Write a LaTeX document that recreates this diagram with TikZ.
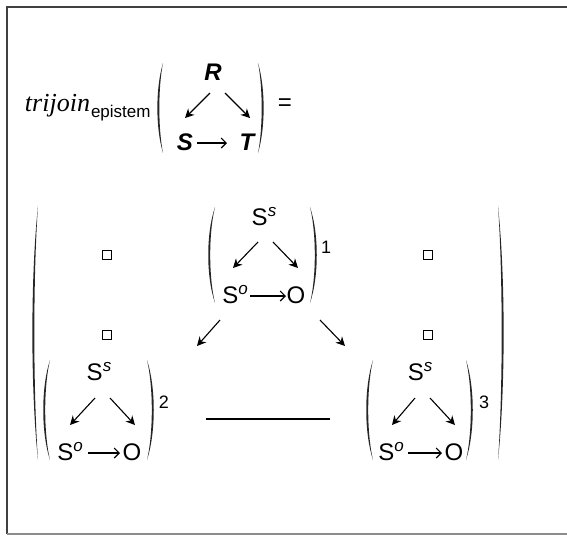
\documentclass[tikz,border=0pt]{standalone}
\usepackage{fontspec}
\setmainfont{Liberation Sans}
\newfontfamily\tjfont{Liberation Serif}
\usetikzlibrary{arrows.meta}
\newcommand\supx[1]{\raisebox{4.5pt}{\fontsize{8.5}{8.5}\selectfont\itshape #1}}
\tikzset{
  every node/.style={inner sep=0pt,outer sep=0pt},
  ent/.style={font=\fontsize{12}{12}\selectfont,anchor=base},
  bent/.style={font=\fontsize{12}{12}\selectfont\bfseries\itshape,anchor=base},
  idx/.style={font=\fontsize{9}{9}\selectfont,anchor=base},
  sq/.style={draw,minimum size=4.5pt,line width=0.6pt},
  diag/.style={-{Stealth[length=4.5pt,width=4.5pt]},line width=0.55pt},
  harrow/.style={-{Straight Barb[length=2.5pt,width=5pt]},line width=0.55pt},
  pics/lpar/.style n args={2}{code={\fill[black!85] (0,-#1) .. controls (-#2,-0.45*#1) and (-#2,0.45*#1) .. (0,#1)
    .. controls (2.6-#2,0.45*#1) and (2.6-#2,-0.45*#1) .. (0,-#1);}},
  pics/rpar/.style n args={2}{code={\fill[black!85] (0,-#1) .. controls (#2,-0.45*#1) and (#2,0.45*#1) .. (0,#1)
    .. controls (#2-2.6,0.45*#1) and (#2-2.6,-0.45*#1) .. (0,-#1);}}
}
\begin{document}
\begin{tikzpicture}[x=0.5pt,y=-0.5pt]
  \useasboundingbox (0,0) rectangle (567,536);
  \draw[line width=1pt,black!75] (567,7) -- (7,7) -- (7,534);
  \draw[line width=0.8pt,black!45] (7,534) -- (567,534);

  % left-hand side
  \node[anchor=base west,font=\tjfont\itshape\fontsize{13}{13}\selectfont] (tj) at (25,111) {trijoin};
  \node[anchor=base west,font=\fontsize{8.5}{8.5}\selectfont] (ep) at ([xshift=0.5pt,yshift=-3pt]tj.base east) {epistem};
  \pic at (163,108) {lpar={45}{7.5}};
  \node[bent] (r) at (213,80) {R};
  \node[bent] (s) at (185,150) {S};
  \node[bent] (t) at (247,150) {T};
  \draw[diag] ([shift={(-3,13)}]r.base) -- ([shift={(0,-32)}]s.base);
  \draw[diag] ([shift={(12,13)}]r.base) -- ([shift={(3,-32)}]t.base);
  \draw[harrow] ([shift={(12,-7)}]s.base) -- ([shift={(-20,-7)}]t.base);
  \pic at (258,108) {rpar={45}{7.5}};
  \node[font=\fontsize{12}{12}\selectfont] (eq) at (285,105) {=};

  % right-hand side
  \pic at (38,333) {lpar={127}{7.5}};
  \pic at (498,333) {rpar={127}{7.5}};
  \node[sq] (q1) at (107,255) {};
  \node[sq] (q2) at (428,255) {};
  \node[sq] (q3) at (107,335) {};
  \node[sq] (q4) at (428,335) {};

  % triangle 1
  \pic at (215,255) {lpar={48}{9}};
  \node[ent] (ss1) at (264,225) {S\supx{s}};
  \node[ent] (so1) at (235,303) {S\supx{o}};
  \node[ent] (o1) at (296,303) {O};
  \draw[diag] ([shift={(-6,17)}]ss1.base) -- ([shift={(-2,-35)}]so1.base);
  \draw[diag] ([shift={(9,17)}]ss1.base) -- ([shift={(2,-35)}]o1.base);
  \draw[harrow] ([shift={(15,-7)}]so1.base) -- ([shift={(-10,-7)}]o1.base);
  \pic at (310,255) {rpar={48}{9}};
  \node[idx] (n1) at (326,253) {1};

  % triangle 2
  \pic at (50,410) {lpar={50}{9}};
  \node[ent] (ss2) at (99,380) {S\supx{s}};
  \node[ent] (so2) at (70,460) {S\supx{o}};
  \node[ent] (o2) at (132,460) {O};
  \draw[diag] ([shift={(-4,18)}]ss2.base) -- ([shift={(0,-35)}]so2.base);
  \draw[diag] ([shift={(11,18)}]ss2.base) -- ([shift={(3,-35)}]o2.base);
  \draw[harrow] ([shift={(18,-7)}]so2.base) -- ([shift={(-12,-7)}]o2.base);
  \pic at (147,410) {rpar={50}{9}};
  \node[idx] (n2) at (164,408) {2};

  % triangle 3
  \pic at (373,410) {lpar={50}{9}};
  \node[ent] (ss3) at (420,380) {S\supx{s}};
  \node[ent] (so3) at (391,460) {S\supx{o}};
  \node[ent] (o3) at (454,460) {O};
  \draw[diag] ([shift={(-5,18)}]ss3.base) -- ([shift={(1,-35)}]so3.base);
  \draw[diag] ([shift={(10,18)}]ss3.base) -- ([shift={(1,-35)}]o3.base);
  \draw[harrow] ([shift={(17,-7)}]so3.base) -- ([shift={(-12,-7)}]o3.base);
  \pic at (466,410) {rpar={50}{9}};
  \node[idx] (n3) at (484,408) {3};

  \draw[diag] ([shift={(-15,17)}]so1.base) -- ([shift={(98,-34)}]ss2.base);
  \draw[diag] ([shift={(24,17)}]o1.base) -- ([shift={(-75,-34)}]ss3.base);
  \draw[line width=0.7pt] ([shift={(42,11)}]n2.base) -- ([shift={(-90,39)}]ss3.base);
\end{tikzpicture}
\end{document}
